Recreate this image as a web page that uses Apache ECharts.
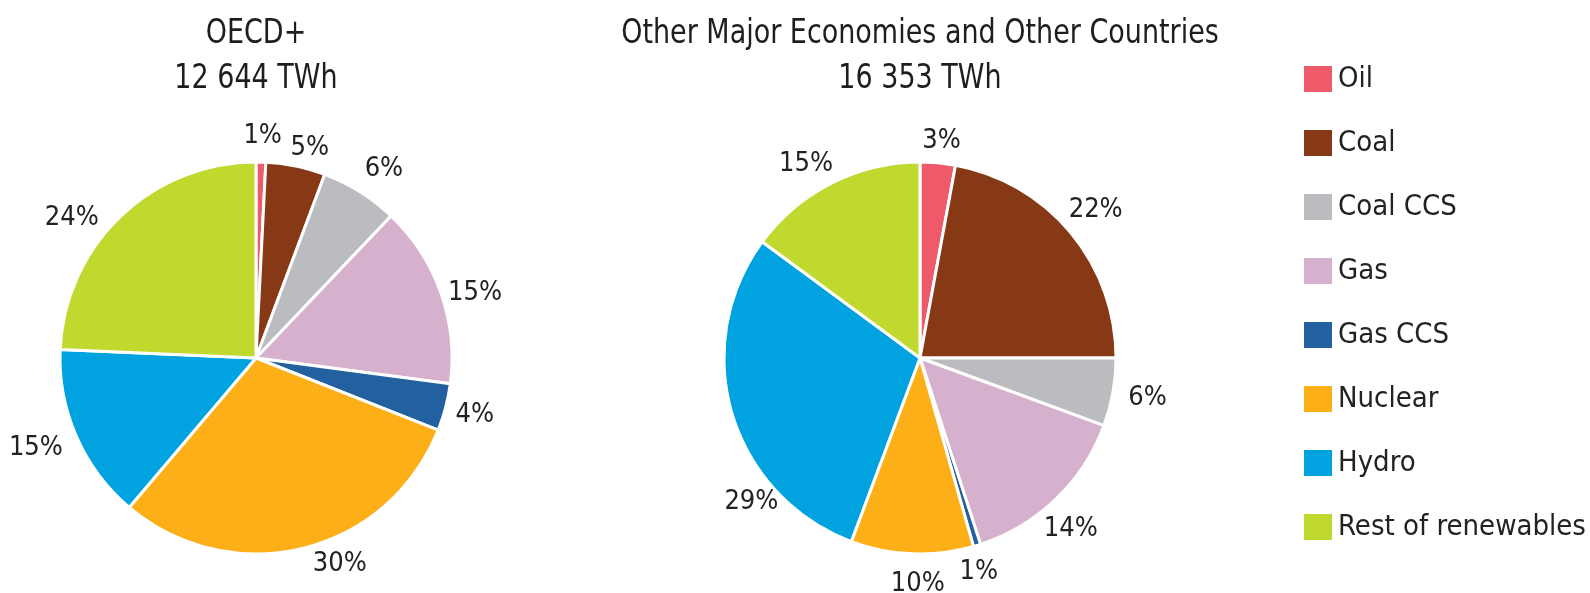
<!DOCTYPE html>
<html>
<head>
<meta charset="utf-8">
<script src="https://cdn.jsdelivr.net/npm/echarts@6/dist/echarts.min.js"></script>
<style>
  html, body { margin: 0; padding: 0; background: #fff; }
  #main { width: 1590px; height: 593px; }
</style>
</head>
<body>
<div id="main"></div>
<script>
var sources = ['Oil', 'Coal', 'Coal CCS', 'Gas', 'Gas CCS', 'Nuclear', 'Hydro', 'Rest of renewables'];
var colors = ['#ef5a6a', '#873814', '#bbbcc0', '#d6b1cd', '#22609f', '#fcaf17', '#00a3e0', '#c1d82f'];
// shares in %
var oecdValues = [0.8, 4.9, 6.4, 15.0, 3.9, 30.2, 14.5, 24.3];
var otherValues = [2.9, 22.1, 5.6, 14.4, 0.6, 10.1, 29.4, 14.9];
var oecdTitle = ['OECD+', '12 644 TWh'];
var otherTitle = ['Other Major Economies and Other Countries', '16 353 TWh'];

// small nudges of the % labels, the source places them by hand
var oecdLabelShift = [[-4, 4], [3, 11], [3, 3], [1, 10], [-5, 0], [24, -13], [-8, 0], [-23, 23]];
var otherLabelShift = [[-4, 8], [-3, -3], [0, 0], [-11, 8], [-12, -2], [12, 0], [53, 80], [-7, 8]];

var font = '"DejaVu Sans Condensed", "Liberation Sans Narrow", sans-serif';

function toData(values) {
    return sources.map(function (name, i) {
        return { name: name, value: values[i] };
    });
}

function pieSeries(values, center, shift) {
    return {
        type: 'pie',
        center: center,
        radius: 196,
        startAngle: 90,
        clockwise: true,
        avoidLabelOverlap: false,
        itemStyle: { borderColor: '#fff', borderWidth: 3 },
        label: {
            position: 'outside',
            color: '#222',
            fontFamily: font,
            fontSize: 27,
            formatter: function (p) { return Math.round(p.percent) + '%'; }
        },
        labelLine: { show: false, length: 30, length2: 0 },
        labelLayout: function (p) {
            return {
                align: 'center', verticalAlign: 'middle', hideOverlap: false,
                dx: shift[p.dataIndex][0], dy: shift[p.dataIndex][1]
            };
        },
        emphasis: { disabled: true },
        data: toData(values)
    };
}

// titles as text elements, stretched vertically like the condensed source font
function titleLines(lines, cx) {
    return lines.map(function (line, i) {
        return {
            type: 'text',
            x: cx,
            y: 34 + i * 45,
            scaleY: 1.12,
            style: {
                text: line,
                fontFamily: font,
                fontSize: 30,
                fill: '#1e1e1e',
                align: 'center',
                verticalAlign: 'middle'
            }
        };
    });
}

var chart = echarts.init(document.getElementById('main'));
chart.setOption({
    color: colors,
    animation: false,
    graphic: titleLines(oecdTitle, 256).concat(titleLines(otherTitle, 920)),
    legend: {
        orient: 'vertical',
        left: 1297,
        top: 59,
        itemWidth: 30,
        itemHeight: 28,
        itemGap: 34,
        icon: 'rect',
        data: sources,
        textStyle: { fontFamily: font, fontSize: 29, color: '#222', lineHeight: 28 }
    },
    series: [
        pieSeries(oecdValues, [256, 358], oecdLabelShift),
        pieSeries(otherValues, [920, 358], otherLabelShift)
    ]
});
</script>
</body>
</html>
